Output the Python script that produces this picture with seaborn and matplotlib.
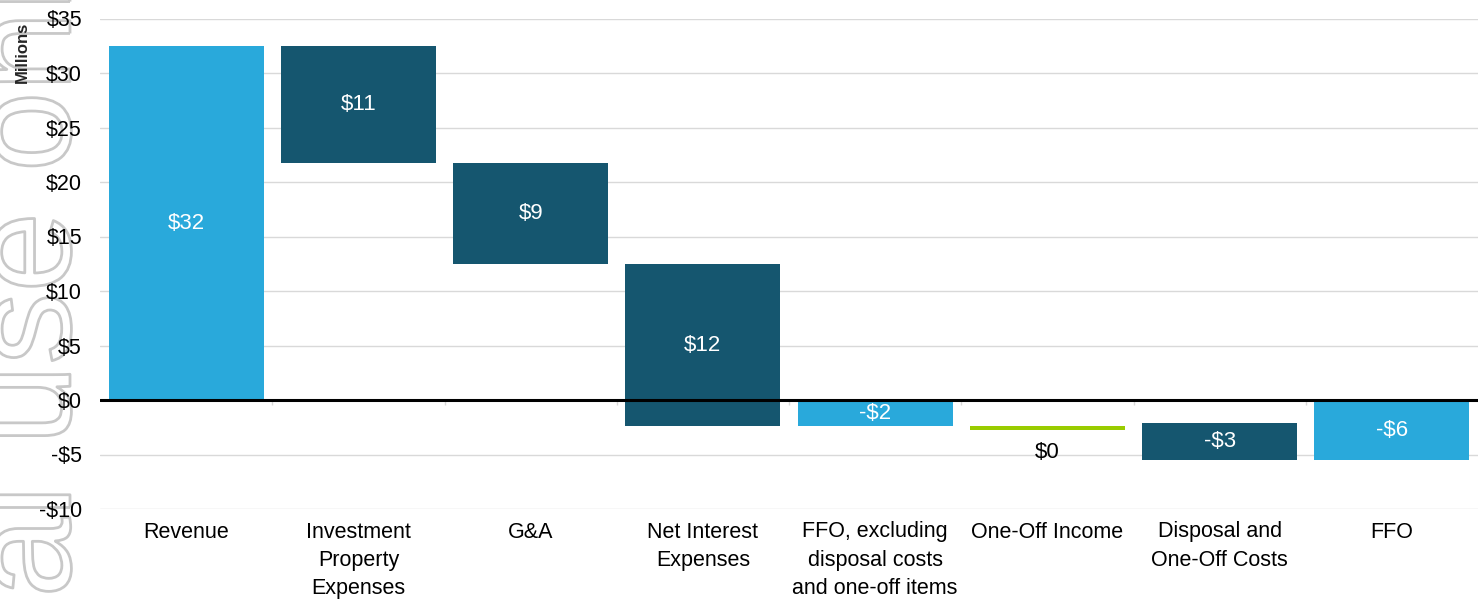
import matplotlib
matplotlib.use("Agg")
import matplotlib.pyplot as plt
import matplotlib.patheffects as pe
import seaborn as sns
import pandas as pd
import numpy as np

# ---- data (millions) ----
categories = [
    "Revenue",
    "Investment\nProperty\nExpenses",
    "G&A",
    "Net Interest\nExpenses",
    "FFO, excluding\ndisposal costs\nand one-off items",
    "One-Off Income",
    "Disposal and\nOne-Off Costs",
    "FFO",
]
bar_start = [0, 32.45, 21.7, 12.45, 0, -2.35, -2.15, 0]
bar_end = [32.45, 21.7, 12.45, -2.4, -2.4, -2.72, -5.55, -5.55]
value_labels = ["$32", "$11", "$9", "$12", "-$2", "$0", "-$3", "-$6"]
bar_colors = ["#29A9DB", "#15566F", "#15566F", "#15566F",
              "#29A9DB", "#99CC00", "#15566F", "#29A9DB"]
y_ticks = [-10, -5, 0, 5, 10, 15, 20, 25, 30, 35]
y_tick_labels = ["-$10", "-$5", "$0", "$5", "$10", "$15", "$20", "$25", "$30", "$35"]

sns.set_style("white")
plt.rcParams["font.family"] = ["Liberation Sans", "DejaVu Sans"]

W, H = 1481, 600
fig = plt.figure(figsize=(W / 100, H / 100), dpi=100)
ax = fig.add_axes([100 / W, 1 - 509 / H, 1378 / W, (509 - 18.5) / H])

df = pd.DataFrame({
    "category": categories,
    "height": np.array(bar_end) - np.array(bar_start),
})
sns.barplot(data=df, x="category", y="height", bottom=bar_start, width=0.9,
            color=bar_colors[0], saturation=1, errorbar=None,
            edgecolor="none", linewidth=0, zorder=3, ax=ax)
for patch, c in zip(ax.patches, bar_colors):
    patch.set_facecolor(c)

container = ax.containers[0]
center_labels = [lab if i != 5 else "" for i, lab in enumerate(value_labels)]
ax.bar_label(container, labels=center_labels, label_type="center",
             color="white", fontsize=16, zorder=5)
ax.annotate(value_labels[5], xy=(5, min(bar_start[5], bar_end[5])),
            xytext=(0, -9), textcoords="offset points",
            ha="center", va="top", fontsize=16, color="black")

# zero line and small boundary ticks
ax.axhline(0, color="black", lw=2.2, zorder=4)
ax.vlines([i + 0.5 for i in range(len(categories) - 1)], -0.45, 0,
          color="#D9D9D9", lw=1, zorder=2)

ax.set_xlim(-0.5, len(categories) - 0.5)
ax.set_ylim(-10, 35)
ax.set_yticks(y_ticks)
ax.set_yticklabels(y_tick_labels)
ax.yaxis.grid(True, color="#D9D9D9", lw=1)
ax.xaxis.grid(False)
ax.set_axisbelow(True)
for s in ax.spines.values():
    s.set_visible(False)
ax.set_xlabel("")
ax.set_ylabel("")
ax.tick_params(axis="both", length=0, colors="black")
ax.tick_params(axis="y", pad=13, labelsize=15.5)
ax.tick_params(axis="x", pad=9)
for lbl in ax.get_xticklabels():
    lbl.set_fontsize(15.5)
    lbl.set_linespacing(1.45)

fig.text(22 / W, 1 - 52 / H, "Millions", rotation=90, fontweight="bold",
         fontsize=12, ha="center", va="center")

# watermark
fig.text(70 / W, (H - 1296) / H, "For personal use only", fontsize=104,
         rotation=90, rotation_mode="anchor", ha="left", va="baseline",
         color="none", zorder=-1,
         path_effects=[pe.Stroke(linewidth=2, foreground="#C8C8C8")])

fig.savefig("out.png", dpi=100)
